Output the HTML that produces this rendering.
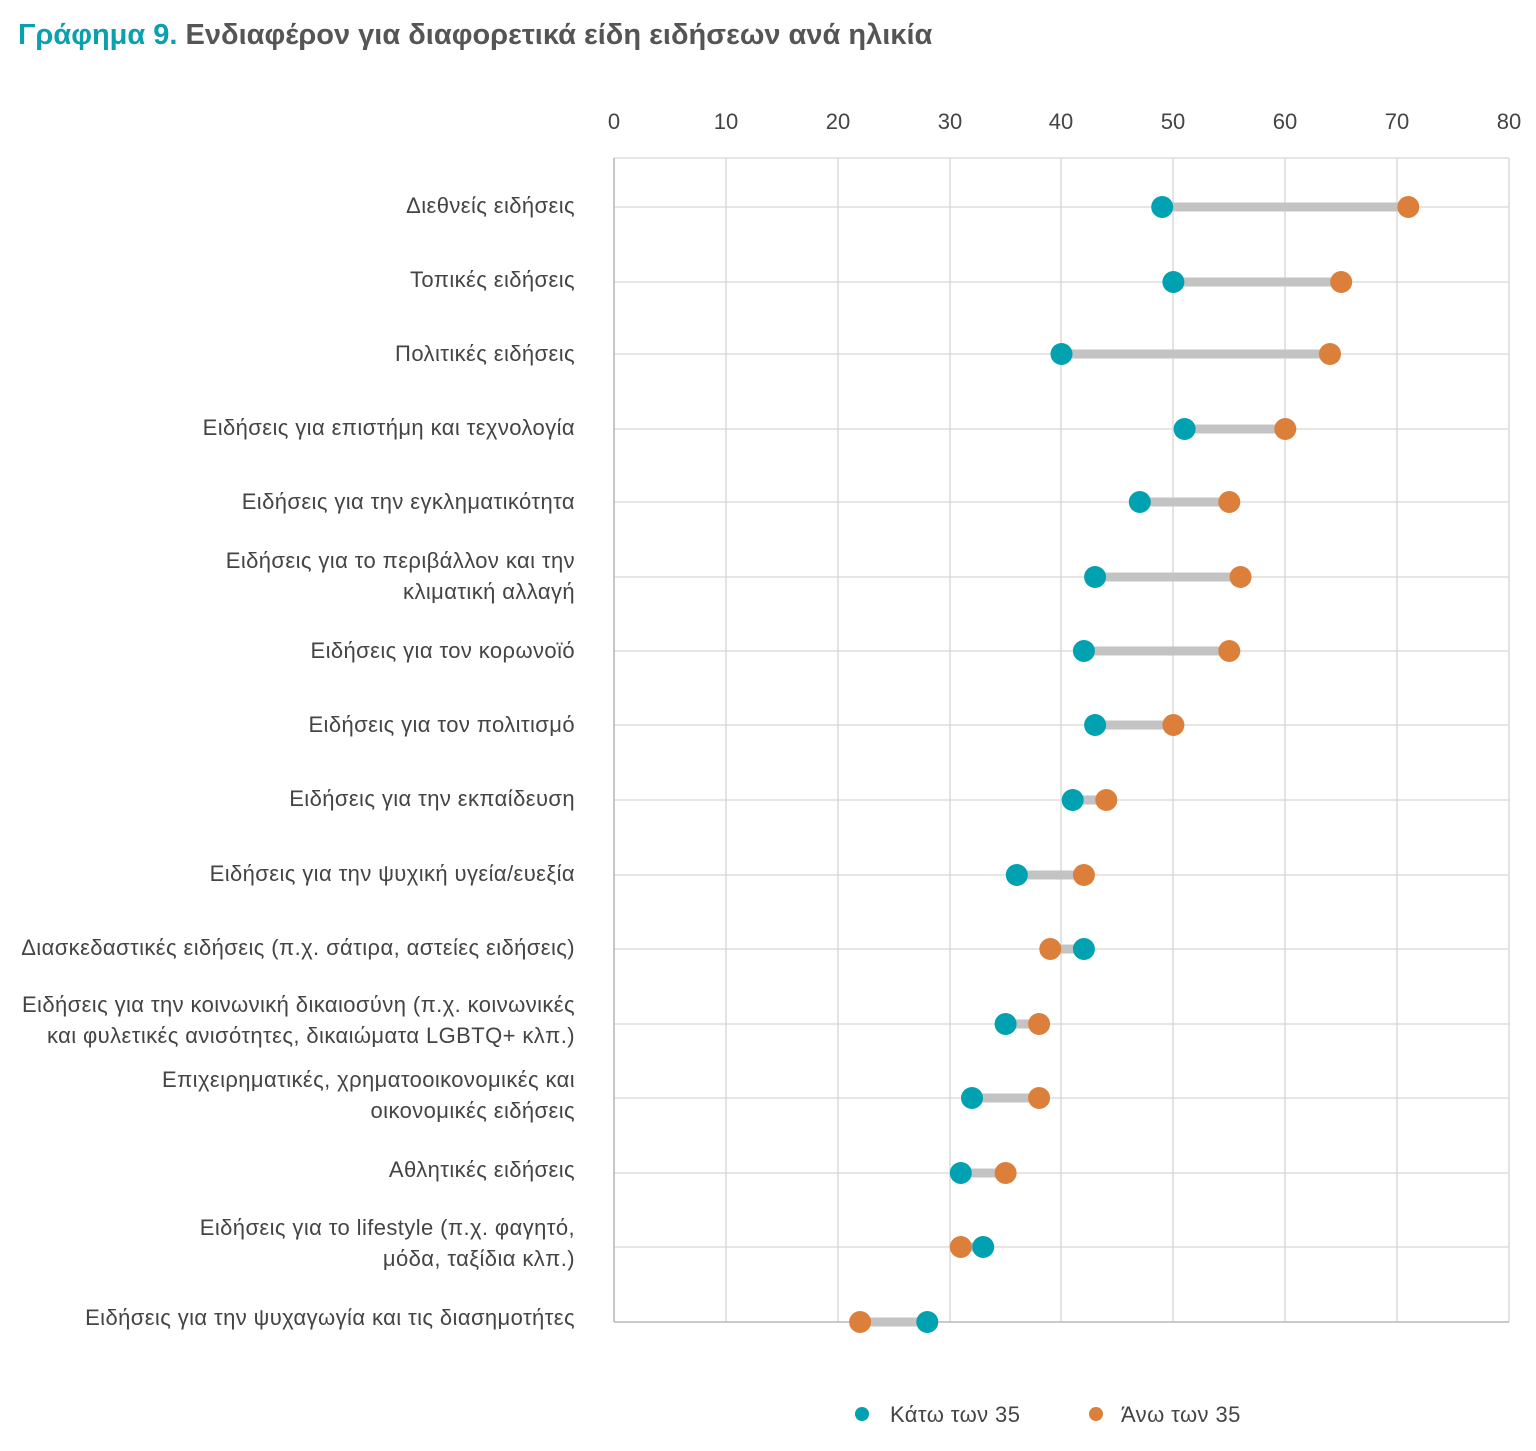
<!DOCTYPE html>
<html><head><meta charset="utf-8"><style>
html,body{margin:0;padding:0;background:#fff;}
svg{display:block;font-family:"Liberation Sans","DejaVu Sans",sans-serif;}
</style></head><body>
<svg width="1536" height="1451" viewBox="0 0 1536 1451" xmlns="http://www.w3.org/2000/svg">
<text x="18" y="44" font-size="29" font-weight="bold" fill="#555"><tspan fill="#0aa0ae">Γράφημα 9.</tspan> Ενδιαφέρον για διαφορετικά είδη ειδήσεων ανά ηλικία</text>
<g stroke="#d9d5d2" stroke-width="1.3">
<line x1="614" y1="158" x2="1509" y2="158"/>
<line x1="726" y1="158" x2="726" y2="1322"/>
<line x1="838" y1="158" x2="838" y2="1322"/>
<line x1="950" y1="158" x2="950" y2="1322"/>
<line x1="1061" y1="158" x2="1061" y2="1322"/>
<line x1="1173" y1="158" x2="1173" y2="1322"/>
<line x1="1285" y1="158" x2="1285" y2="1322"/>
<line x1="1397" y1="158" x2="1397" y2="1322"/>
<line x1="1509" y1="158" x2="1509" y2="1322"/>
<line x1="614" y1="207" x2="1509" y2="207"/>
<line x1="614" y1="282" x2="1509" y2="282"/>
<line x1="614" y1="354" x2="1509" y2="354"/>
<line x1="614" y1="429" x2="1509" y2="429"/>
<line x1="614" y1="502" x2="1509" y2="502"/>
<line x1="614" y1="577" x2="1509" y2="577"/>
<line x1="614" y1="651" x2="1509" y2="651"/>
<line x1="614" y1="725" x2="1509" y2="725"/>
<line x1="614" y1="800" x2="1509" y2="800"/>
<line x1="614" y1="875" x2="1509" y2="875"/>
<line x1="614" y1="949" x2="1509" y2="949"/>
<line x1="614" y1="1024" x2="1509" y2="1024"/>
<line x1="614" y1="1098" x2="1509" y2="1098"/>
<line x1="614" y1="1173" x2="1509" y2="1173"/>
<line x1="614" y1="1247" x2="1509" y2="1247"/>
</g>
<g stroke="#aaa" stroke-width="1.3">
<line x1="614" y1="158" x2="614" y2="1322"/>
<line x1="614" y1="1322" x2="1509" y2="1322"/>
</g>
<g font-size="22" fill="#444" text-anchor="middle">
<text x="614" y="129">0</text><text x="726" y="129">10</text><text x="838" y="129">20</text><text x="950" y="129">30</text><text x="1061" y="129">40</text><text x="1173" y="129">50</text><text x="1285" y="129">60</text><text x="1397" y="129">70</text><text x="1509" y="129">80</text>
</g>
<g stroke="#c3c3c3" stroke-width="9">
<line x1="1162.2" y1="207" x2="1408.3" y2="207"/>
<line x1="1173.4" y1="282" x2="1341.2" y2="282"/>
<line x1="1061.5" y1="354" x2="1330" y2="354"/>
<line x1="1184.6" y1="429" x2="1285.3" y2="429"/>
<line x1="1139.8" y1="502" x2="1229.3" y2="502"/>
<line x1="1095.1" y1="577" x2="1240.5" y2="577"/>
<line x1="1083.9" y1="651" x2="1229.3" y2="651"/>
<line x1="1095.1" y1="725" x2="1173.4" y2="725"/>
<line x1="1072.7" y1="800" x2="1106.3" y2="800"/>
<line x1="1016.8" y1="875" x2="1083.9" y2="875"/>
<line x1="1050.3" y1="949" x2="1083.9" y2="949"/>
<line x1="1005.6" y1="1024" x2="1039.1" y2="1024"/>
<line x1="972" y1="1098" x2="1039.1" y2="1098"/>
<line x1="960.8" y1="1173" x2="1005.6" y2="1173"/>
<line x1="960.8" y1="1247" x2="983.2" y2="1247"/>
<line x1="860.1" y1="1322" x2="927.3" y2="1322"/>
</g>
<g fill="#00a1b0">
<circle cx="1162.2" cy="207" r="11"/>
<circle cx="1173.4" cy="282" r="11"/>
<circle cx="1061.5" cy="354" r="11"/>
<circle cx="1184.6" cy="429" r="11"/>
<circle cx="1139.8" cy="502" r="11"/>
<circle cx="1095.1" cy="577" r="11"/>
<circle cx="1083.9" cy="651" r="11"/>
<circle cx="1095.1" cy="725" r="11"/>
<circle cx="1072.7" cy="800" r="11"/>
<circle cx="1016.8" cy="875" r="11"/>
<circle cx="1083.9" cy="949" r="11"/>
<circle cx="1005.6" cy="1024" r="11"/>
<circle cx="972" cy="1098" r="11"/>
<circle cx="960.8" cy="1173" r="11"/>
<circle cx="983.2" cy="1247" r="11"/>
<circle cx="927.3" cy="1322" r="11"/>
</g>
<g fill="#dc7f3a">
<circle cx="1408.3" cy="207" r="11"/>
<circle cx="1341.2" cy="282" r="11"/>
<circle cx="1330" cy="354" r="11"/>
<circle cx="1285.3" cy="429" r="11"/>
<circle cx="1229.3" cy="502" r="11"/>
<circle cx="1240.5" cy="577" r="11"/>
<circle cx="1229.3" cy="651" r="11"/>
<circle cx="1173.4" cy="725" r="11"/>
<circle cx="1106.3" cy="800" r="11"/>
<circle cx="1083.9" cy="875" r="11"/>
<circle cx="1050.3" cy="949" r="11"/>
<circle cx="1039.1" cy="1024" r="11"/>
<circle cx="1039.1" cy="1098" r="11"/>
<circle cx="1005.6" cy="1173" r="11"/>
<circle cx="960.8" cy="1247" r="11"/>
<circle cx="860.1" cy="1322" r="11"/>
</g>
<g font-size="22" fill="#444" text-anchor="end" letter-spacing="0.4">
<text x="575" y="213">Διεθνείς ειδήσεις</text>
<text x="575" y="287">Τοπικές ειδήσεις</text>
<text x="575" y="361">Πολιτικές ειδήσεις</text>
<text x="575" y="435">Ειδήσεις για επιστήμη και τεχνολογία</text>
<text x="575" y="509">Ειδήσεις για την εγκληματικότητα</text>
<text x="575" y="568">Ειδήσεις για το περιβάλλον και την</text>
<text x="575" y="599">κλιματική αλλαγή</text>
<text x="575" y="658">Ειδήσεις για τον κορωνοϊό</text>
<text x="575" y="732">Ειδήσεις για τον πολιτισμό</text>
<text x="575" y="806">Ειδήσεις για την εκπαίδευση</text>
<text x="575" y="881">Ειδήσεις για την ψυχική υγεία/ευεξία</text>
<text x="575" y="955">Διασκεδαστικές ειδήσεις (π.χ. σάτιρα, αστείες ειδήσεις)</text>
<text x="575" y="1012">Ειδήσεις για την κοινωνική δικαιοσύνη (π.χ. κοινωνικές</text>
<text x="575" y="1043">και φυλετικές ανισότητες, δικαιώματα LGBTQ+ κλπ.)</text>
<text x="575" y="1087">Επιχειρηματικές, χρηματοοικονομικές και</text>
<text x="575" y="1118">οικονομικές ειδήσεις</text>
<text x="575" y="1177">Αθλητικές ειδήσεις</text>
<text x="575" y="1235">Ειδήσεις για το lifestyle (π.χ. φαγητό,</text>
<text x="575" y="1266">μόδα, ταξίδια κλπ.)</text>
<text x="575" y="1325">Ειδήσεις για την ψυχαγωγία και τις διασημοτήτες</text>
</g>
<circle cx="862" cy="1414" r="7" fill="#00a1b0"/>
<text x="890" y="1422" font-size="22" fill="#444" letter-spacing="0.4">Κάτω των 35</text>
<circle cx="1096" cy="1414" r="7" fill="#dc7f3a"/>
<text x="1121" y="1422" font-size="22" fill="#444" letter-spacing="0.4">Άνω των 35</text>
</svg>
</body></html>
